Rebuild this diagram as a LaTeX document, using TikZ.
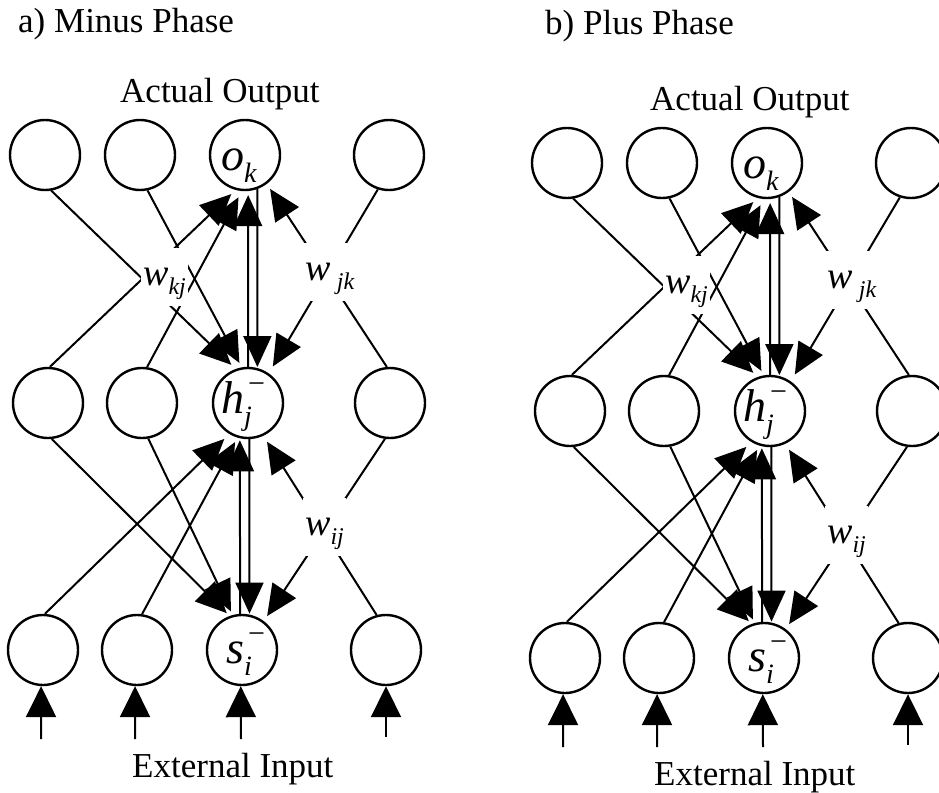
\documentclass[tikz,border=0pt]{standalone}
\usepackage{fontspec}
\setmainfont{Liberation Serif}
\usetikzlibrary{arrows.meta,calc}
\tikzset{
 neuron/.style={circle,draw,line width=2.4pt,minimum size=70pt,inner sep=0pt},
 conn/.style={line width=2pt,-{Triangle[length=31pt,width=28pt]}},
 inarr/.style={line width=2pt,-{Triangle[length=31pt,width=30pt]}},
 wlbl/.style={fill=white,inner sep=0pt,inner xsep=2pt,text height=37pt,text depth=21pt,anchor=base west,font=\fontsize{38}{40}\selectfont},
 nlbl/.style={inner sep=0pt,anchor=base west,font=\fontsize{46}{48}\selectfont},
 bigtxt/.style={inner sep=0pt,anchor=base west,font=\fontsize{35}{42}\selectfont},
}
\newcommand\nsub[1]{\raisebox{-12pt}{\fontsize{28}{28}\selectfont\itshape #1}}
\newcommand\wsub[1]{\raisebox{-9pt}{\fontsize{24}{24}\selectfont\itshape #1}}
\newcommand\supminus{\rlap{\hspace{4pt}\raisebox{20pt}{\fontsize{30}{30}\selectfont\char"2212}}}
\newcommand\panel[1]{%
 \node[neuron] (#1t1) at (45,155) {};
 \node[neuron] (#1t2) at (140,155) {};
 \node[neuron] (#1ok) at (245,155) {};
 \node[neuron] (#1t4) at (389,155) {};
 \node[neuron] (#1m1) at (48,403) {};
 \node[neuron] (#1m2) at (142,403) {};
 \node[neuron] (#1hj) at (248,403) {};
 \node[neuron] (#1m4) at (390,403) {};
 \node[neuron] (#1b1) at (43,650) {};
 \node[neuron] (#1b2) at (137,650) {};
 \node[neuron] (#1si) at (242,650) {};
 \node[neuron] (#1b4) at (386,650) {};
 % top <-> hidden
 \draw[conn,shorten >=6pt] (#1t1.-80) -- (#1hj.110);
 \draw[conn,shorten >=5pt] (#1t2.-78) -- (#1hj.100);
 \draw[conn,shorten >=1pt] (#1ok.-70) -- (#1hj.75);
 \draw[conn,shorten >=4pt] (#1hj.90) -- (#1ok.-85);
 \draw[conn,shorten >=8pt] (#1t4.-108) -- (#1hj.55);
 \draw[conn,shorten >=6pt] (#1m1.87) -- (#1ok.-105);
 \draw[conn,shorten >=7pt] (#1m2.82) -- (#1ok.-95);
 \draw[conn,shorten >=6pt] (#1m4.95) -- (#1ok.-53);
 % hidden <-> input
 \draw[conn,shorten >=4pt] (#1m1.-84) -- (#1si.110);
 \draw[conn,shorten >=4pt] (#1m2.-80) -- (#1si.105);
 \draw[conn,shorten >=1pt] (#1hj.-88) -- (#1si.78);
 \draw[conn,shorten >=2pt] (#1si.93) -- (#1hj.-103);
 \draw[conn,shorten >=6pt] (#1m4.-98) -- (#1si.53);
 \draw[conn,shorten >=7pt] (#1b1.87) -- (#1hj.-121);
 \draw[conn,shorten >=5pt] (#1b2.82) -- (#1hj.-107);
 \draw[conn,shorten >=7pt] (#1b4.105) -- (#1hj.-65);
 % external inputs
 \coordinate (#1i1) at (41,739);
 \coordinate (#1i2) at (135,739);
 \coordinate (#1i3) at (241,739);
 \coordinate (#1i4) at (386,737);
 \draw[inarr] (#1i1) -- (#1b1.-93);
 \draw[inarr] (#1i2) -- (#1b2.-93);
 \draw[inarr] (#1i3) -- (#1si.-92);
 \draw[inarr] (#1i4) -- (#1b4.-90);
 % weight labels
 \node[wlbl] (#1wkj) at (141,285) {\textit{w}\wsub{kj}};
 \node[wlbl] (#1wjk) at (303,280) {\textit{w}\,\wsub{jk}};
 \node[wlbl] (#1wij) at (303,535) {\textit{w}\wsub{ij}};
 % unit labels
 \node[nlbl] (#1okl) at (221,170) {\textit{o}\nsub{k}};
 \node[nlbl] (#1hjl) at (221,413) {\textit{h}\supminus\nsub{j}};
 \node[nlbl] (#1sil) at (226,663) {\textit{s}\supminus\nsub{i}};
 \node[bigtxt] (#1ext) at (132,777) {External Input};
}
\begin{document}
\begin{tikzpicture}[x=1pt,y=-1pt]
\clip (0,0) rectangle (939,792);
\fill[white] (0,0) rectangle (939,792);
\node[bigtxt] (ta) at (18,33) {a) Minus Phase};
\node[bigtxt] (tb) at (545,35) {b) Plus Phase};
\node[bigtxt] (aoa) at (120,102) {Actual Output};
\node[bigtxt] (aob) at (650,110) {Actual Output};
\panel{a}
\begin{scope}[shift={(522,8)}]
\panel{b}
\end{scope}
\end{tikzpicture}
\end{document}
